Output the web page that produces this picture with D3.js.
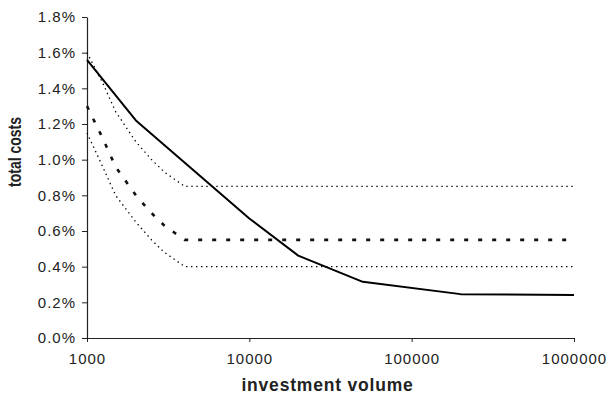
<!DOCTYPE html>
<html><head><meta charset="utf-8">
<script src="https://cdn.jsdelivr.net/npm/d3@7"></script>
<style>body{margin:0;background:#fff}svg{display:block}</style>
</head><body>
<svg id="c" width="610" height="396"></svg>
<script>
// Data (costs in fraction, i.e. 0.0156 = 1.56%)
const solidVolumes = [1000, 2000, 10000, 20000, 50000, 200000, 1000000];
const solidCosts   = [0.0156, 0.0122, 0.0067, 0.00462, 0.00315, 0.00246, 0.00241];

const curveVolumes = [1000, 1250, 1500, 2000, 2500, 3000, 4000, 1000000];
const upperCosts   = [0.016, 0.0143, 0.0127, 0.011, 0.010, 0.0093, 0.0085, 0.0085];
const middleCosts  = [0.013, 0.0112, 0.0096, 0.008, 0.007, 0.0063, 0.0055, 0.0055];
const lowerCosts   = [0.0115, 0.0096, 0.0080, 0.0065, 0.0055, 0.0048, 0.0040, 0.0040];

const xTicks = [1000, 10000, 100000, 1000000];
const yTicks = [0, 0.002, 0.004, 0.006, 0.008, 0.010, 0.012, 0.014, 0.016, 0.018];

const xTitle = "investment volume";
const yTitle = "total costs";

const svg = d3.select("#c");
const m = {l: 87, r: 36, t: 17, b: 58};
const W = 610, H = 396;
const x = d3.scaleLog().domain([1000, 1000000]).range([m.l, W - m.r]);
const y = d3.scaleLinear().domain([0, 0.018]).range([H - m.b, m.t]);

const font = "'Liberation Sans', Arial, Helvetica, sans-serif";
const ink = "#222";

// axes
const gy = svg.append("g").attr("transform", `translate(${m.l},0)`)
  .call(d3.axisLeft(y).tickValues(yTicks).tickFormat(d3.format(".1%")).tickSize(5).tickSizeOuter(0).tickPadding(6));
const gx = svg.append("g").attr("transform", `translate(0,${H - m.b})`)
  .call(d3.axisBottom(x).tickValues(xTicks).tickFormat(d => String(d)).tickSize(4).tickSizeOuter(0).tickPadding(11));
[gx, gy].forEach(g => {
  g.select(".domain").attr("stroke", ink).attr("stroke-width", 1.2);
  g.selectAll(".tick line").attr("stroke", ink).attr("stroke-width", 1);
  g.selectAll(".tick text").attr("fill", ink).style("font-family", font)
    .style("font-size", "15px").style("letter-spacing", "1px");
});

const line = (xs, ys) => d3.line().x((d, i) => x(xs[i])).y(d => y(d))(ys);

// dotted thin lines
[upperCosts, lowerCosts].forEach(s => {
  svg.append("path").attr("d", line(curveVolumes, s)).attr("fill", "none")
    .attr("stroke", "#000").attr("stroke-width", 1.3).attr("stroke-dasharray", "1.4,3.6");
});
// thick dashed middle
svg.append("path").attr("d", line(curveVolumes, middleCosts)).attr("fill", "none")
  .attr("stroke", "#111").attr("stroke-width", 2.6).attr("stroke-dasharray", "4,10");
// solid
svg.append("path").attr("d", line(solidVolumes, solidCosts)).attr("fill", "none")
  .attr("stroke", "#000").attr("stroke-width", 2).attr("stroke-linejoin", "round");

// titles
svg.append("text").attr("x", (m.l + W - m.r) / 2 - 3).attr("y", 391)
  .attr("text-anchor", "middle").attr("fill", ink)
  .style("font-family", font).style("font-size", "17.5px").style("font-weight", "bold")
  .style("letter-spacing", "0.8px").text(xTitle);
svg.append("text").attr("transform", "translate(21,152) rotate(-90) scale(1,1.3)")
  .attr("text-anchor", "middle").attr("fill", ink)
  .style("font-family", font).style("font-size", "14px").style("font-weight", "bold")
  .text(yTitle);
</script>
</body></html>
